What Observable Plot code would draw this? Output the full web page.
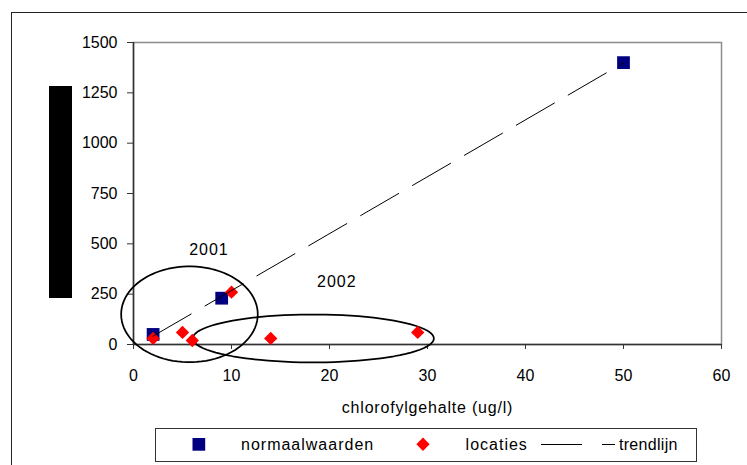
<!DOCTYPE html>
<html>
<head>
<meta charset="utf-8">
<script src="https://cdn.jsdelivr.net/npm/d3@7"></script>
<script src="https://cdn.jsdelivr.net/npm/@observablehq/plot@0.6"></script>
<style>
  html, body { margin: 0; padding: 0; background: #fff; }
  #wrap { position: relative; width: 747px; height: 465px; overflow: hidden; background: #fff;
          font-family: 'Liberation Sans', Arial, sans-serif; }
  #wrap > * { position: absolute; }
  #outer { left: 11px; top: 12px; width: 800px; height: 500px; border: 1px solid #222; box-sizing: border-box; }
  #redact { left: 49px; top: 86px; width: 23px; height: 212px; background: #000; }
  #chart { left: 0; top: 0; }
  #legend { left: 0; top: 0; }
</style>
</head>
<body>
<div id="wrap">
  <div id="outer"></div>
  <div id="redact"></div>
  <div id="chart"></div>
  <div id="legend"></div>
</div>
<script>
// ---- data ----
const xTicks = [0, 10, 20, 30, 40, 50, 60];
const yTicks = [0, 250, 500, 750, 1000, 1250, 1500];
const normX = [2, 9, 50];
const normY = [50, 230, 1400];
const locX = [2, 5, 6, 10, 14, 29];
const locY = [30, 60, 20, 260, 30, 60];
const seriesNames = ["normaalwaarden", "locaties", "trendlijn"];
const xLabel = "chlorofylgehalte (ug/l)";
const yearLabels = ["2001", "2002"];
const yearX = [7.7, 20.75];
const yearY = [468, 313];
// annotation ellipses (data units): centre and radii
const ellipseCx = [5.71, 18.35];
const ellipseCy = [150, 30];
const ellipseRx = [6.97, 12.3];
const ellipseRy = [238, 119];

const norm = normX.map((x, i) => ({x, y: normY[i]}));
const loc = locX.map((x, i) => ({x, y: locY[i]}));
const years = yearLabels.map((t, i) => ({t, x: yearX[i], y: yearY[i]}));
const ellipsePts = [];
ellipseCx.forEach((cx, i) => {
  d3.range(0, 360, 4).forEach(a => {
    const r = a * Math.PI / 180;
    ellipsePts.push({id: i, x: cx + ellipseRx[i] * Math.cos(r), y: ellipseCy[i] + ellipseRy[i] * Math.sin(r)});
  });
});

const font = "'Liberation Sans', Arial, sans-serif";

const chart = Plot.plot({
  width: 747,
  height: 465,
  marginLeft: 133,
  marginRight: 26,
  marginTop: 42,
  marginBottom: 121,
  style: {fontFamily: font, fontSize: "16px", color: "#000", background: "transparent"},
  x: {domain: [0, 60]},
  y: {domain: [0, 1500]},
  marks: [
    Plot.frame({stroke: "#8c8c8c", strokeWidth: 1.5}),
    Plot.axisY(yTicks, {tickSize: 6, tickPadding: 10, tickFormat: "d", label: null, stroke: "#333"}),
    Plot.axisX(xTicks, {tickSize: 5, tickPadding: 20, tickFormat: "d", label: null, stroke: "#333"}),
    Plot.ruleX([0], {stroke: "#333", strokeWidth: 1.5}),
    Plot.ruleY([0], {stroke: "#333", strokeWidth: 1.5}),
    Plot.line(ellipsePts, {x: "x", y: "y", z: "id", curve: "linear-closed", stroke: "#000", strokeWidth: 1.75}),
    Plot.dot(norm, {x: "x", y: "y", symbol: "square", r: 7.2, fill: "#000080"}),
    Plot.dot(loc, {x: "x", y: "y", symbol: "diamond2", r: 6, fill: "#ff0000"}),
    Plot.linearRegressionY(norm, {x: "x", y: "y", ci: 0, stroke: "#000", strokeWidth: 1, strokeDasharray: "44,16"}),
    Plot.text(years, {x: "x", y: "y", text: "t", fontSize: 16, fill: "#000", className: "yearlab"}),
    Plot.text([xLabel], {text: d => d, frameAnchor: "bottom", dy: 68, fontSize: 16, fill: "#000", className: "xlab"})
  ]
});
d3.select(chart).selectAll(".yearlab text").style("letter-spacing", "1px");
d3.select(chart).selectAll(".xlab text").style("letter-spacing", "0.8px");
document.getElementById("chart").appendChild(chart);

// ---- legend ----
const lg = d3.create("svg").attr("width", 747).attr("height", 465)
  .style("font-family", font).style("font-size", "16px");
lg.append("rect").attr("x", 155.5).attr("y", 428.5).attr("width", 541).attr("height", 33)
  .attr("fill", "#fff").attr("stroke", "#333").attr("stroke-width", 1);
lg.append("rect").attr("x", 192.5).attr("y", 438).attr("width", 12.7).attr("height", 12.7).attr("fill", "#000080");
lg.append("path").attr("d", "M423,437.6L429.6,444.3L423,451L416.4,444.3Z").attr("fill", "#ff0000");
lg.append("line").attr("x1", 541).attr("x2", 615).attr("y1", 444.5).attr("y2", 444.5)
  .attr("stroke", "#000").attr("stroke-width", 1).attr("stroke-dasharray", "41,20,13");
const lx = [241, 465.6, 619];
seriesNames.forEach((n, i) => {
  lg.append("text").attr("x", lx[i]).attr("y", 450).attr("fill", "#000")
    .style("letter-spacing", i === 2 ? "0.3px" : "1px").text(n);
});
document.getElementById("legend").appendChild(lg.node());
</script>
</body>
</html>
